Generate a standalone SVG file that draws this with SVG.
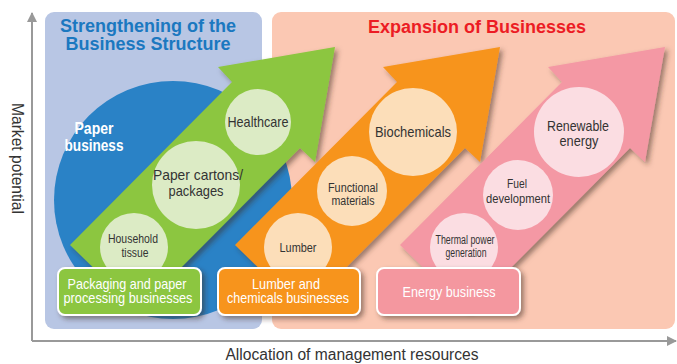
<svg xmlns="http://www.w3.org/2000/svg" width="677" height="364" viewBox="0 0 677 364">
  <defs>
    <filter id="shadow" x="-20%" y="-20%" width="150%" height="150%">
      <feDropShadow dx="3" dy="3" stdDeviation="2.5" flood-color="#3a2a20" flood-opacity="0.5"/>
    </filter>
    <marker id="axisHead" viewBox="0 0 10 10" refX="9" refY="5" markerWidth="5" markerHeight="5" orient="auto">
      <path d="M0,0 L10,5 L0,10 z" fill="#999"/>
    </marker>
  </defs>
  <style>
    .axis { stroke: #999; stroke-width: 2; fill: none; }
    .axisLabel { font-family: "Liberation Sans", Arial, sans-serif; font-size: 15.6px; fill: #333; }
    .title { font-family: "Liberation Sans", Arial, sans-serif; font-weight: bold; font-size: 18px; text-anchor: middle; }
    .cond { font-family: "Liberation Sans", Arial, sans-serif; text-anchor: middle; }
    .bubble { font-size: 15px; fill: #333; }
    .small { font-size: 12.5px; fill: #333; }
    .tag { font-size: 15px; fill: #fff; }
    .tagBox { stroke: #fff; stroke-width: 2; filter: url(#shadow); }
    .arrow { filter: url(#shadow); }
  </style>

  <!-- background panels -->
  <g id="panel-strengthening">
    <rect x="45" y="12" width="217" height="317" rx="9" fill="#b8c6e4"/>
    <text class="title" x="148" y="32" fill="#1b78c0">Strengthening of the</text>
    <text class="title" x="148" y="50" fill="#1b78c0">Business Structure</text>
  </g>
  <g id="panel-expansion">
    <rect x="272" y="12" width="403" height="317" rx="9" fill="#fbc8b3"/>
    <text class="title" x="477" y="33" fill="#ec1c24">Expansion of Businesses</text>
  </g>

  <!-- axes -->
  <g id="axes">
    <line class="axis" x1="32" y1="341" x2="32" y2="13" marker-end="url(#axisHead)"/>
    <line class="axis" x1="32" y1="341" x2="676" y2="341" marker-end="url(#axisHead)"/>
    <text class="axisLabel" transform="translate(12,103) rotate(90)">Market potential</text>
    <text class="axisLabel" x="352" y="360" text-anchor="middle">Allocation of management resources</text>
  </g>

  <!-- core paper business -->
  <g id="paper-business">
    <circle cx="173" cy="200" r="119" fill="#2a82c6"/>
    <text class="cond" x="94" y="134" font-size="17" font-weight="bold" fill="#fff" text-anchor="start" textLength="39" lengthAdjust="spacingAndGlyphs">Paper</text>
    <text class="cond" x="94" y="151" font-size="17" font-weight="bold" fill="#fff" text-anchor="start" textLength="59" lengthAdjust="spacingAndGlyphs">business</text>
  </g>

  <!-- packaging and paper processing -->
  <g id="packaging">
    <polygon class="arrow" points="70,245 232,82 218,67 335,47 315,162 300,148 138,311" fill="#8cc63f"/>
    <circle cx="258" cy="122" r="33" fill="#dcebc5"/>
    <text class="cond bubble" x="258" y="127" textLength="61" lengthAdjust="spacingAndGlyphs">Healthcare</text>
    <circle cx="196" cy="185" r="44" fill="#dcebc5"/>
    <text class="cond bubble" x="198" y="180" textLength="90" lengthAdjust="spacingAndGlyphs">Paper cartons/</text>
    <text class="cond bubble" x="196" y="196" textLength="55" lengthAdjust="spacingAndGlyphs">packages</text>
    <circle cx="134" cy="247" r="34" fill="#dcebc5"/>
    <text class="cond small" x="133" y="243" textLength="50" lengthAdjust="spacingAndGlyphs">Household</text>
    <text class="cond small" x="135" y="257" textLength="27" lengthAdjust="spacingAndGlyphs">tissue</text>
    <rect class="tagBox" x="58" y="268" width="143" height="47" rx="7" fill="#8cc63f"/>
    <text class="cond tag" x="127" y="289" textLength="119" lengthAdjust="spacingAndGlyphs">Packaging and paper</text>
    <text class="cond tag" x="128" y="303" textLength="129" lengthAdjust="spacingAndGlyphs">processing businesses</text>
  </g>

  <!-- lumber and chemicals -->
  <g id="lumber-chemicals">
    <polygon class="arrow" points="235,245 397,82 383,67 500,47 480,162 465,148 303,311" fill="#f7941d"/>
    <circle cx="413" cy="132" r="44" fill="#fcdeb9"/>
    <text class="cond bubble" x="413" y="137" textLength="76" lengthAdjust="spacingAndGlyphs">Biochemicals</text>
    <circle cx="352" cy="191" r="35" fill="#fcdeb9"/>
    <text class="cond small" x="353" y="192" textLength="50" lengthAdjust="spacingAndGlyphs">Functional</text>
    <text class="cond small" x="353" y="205" textLength="43" lengthAdjust="spacingAndGlyphs">materials</text>
    <circle cx="298" cy="247" r="34" fill="#fcdeb9"/>
    <text class="cond small" x="298" y="252" font-size="13" textLength="37" lengthAdjust="spacingAndGlyphs">Lumber</text>
    <rect class="tagBox" x="218" y="268" width="142" height="47" rx="7" fill="#f7941d"/>
    <text class="cond tag" x="286" y="289" textLength="68" lengthAdjust="spacingAndGlyphs">Lumber and</text>
    <text class="cond tag" x="288" y="303" textLength="122" lengthAdjust="spacingAndGlyphs">chemicals businesses</text>
  </g>

  <!-- energy -->
  <g id="energy">
    <polygon class="arrow" points="400,245 562,82 548,67 665,47 645,162 630,148 468,311" fill="#f498a4"/>
    <circle cx="579" cy="132" r="45" fill="#fbdde2"/>
    <text class="cond bubble" x="578" y="131" textLength="62" lengthAdjust="spacingAndGlyphs">Renewable</text>
    <text class="cond bubble" x="579" y="146" textLength="39" lengthAdjust="spacingAndGlyphs">energy</text>
    <circle cx="518" cy="195" r="35" fill="#fbdde2"/>
    <text class="cond small" x="517" y="188" font-size="13" textLength="20" lengthAdjust="spacingAndGlyphs">Fuel</text>
    <text class="cond small" x="518" y="203" font-size="13" textLength="64" lengthAdjust="spacingAndGlyphs">development</text>
    <circle cx="464" cy="247" r="34" fill="#fbdde2"/>
    <text class="cond small" x="465" y="244" font-size="11.5" textLength="59" lengthAdjust="spacingAndGlyphs">Thermal power</text>
    <text class="cond small" x="466" y="257" font-size="11.5" textLength="41" lengthAdjust="spacingAndGlyphs">generation</text>
    <rect class="tagBox" x="377" y="268" width="143" height="47" rx="7" fill="#f4979f"/>
    <text class="cond tag" x="449" y="297" textLength="93" lengthAdjust="spacingAndGlyphs">Energy business</text>
  </g>
</svg>
